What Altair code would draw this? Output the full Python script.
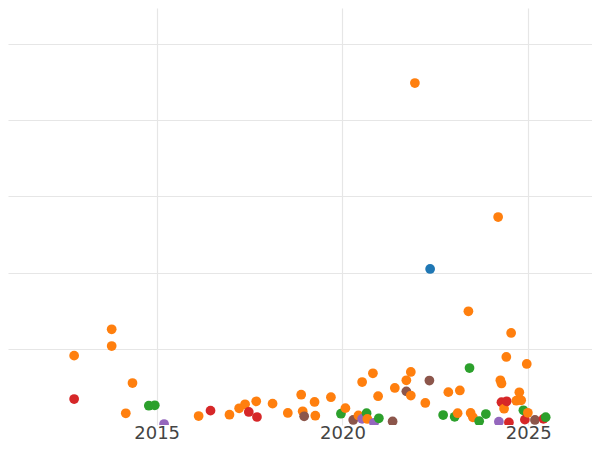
import altair as alt
import pandas as pd

# year (decimal) and value per category
orange_x = [2012.78, 2013.79, 2013.79, 2014.35, 2014.17, 2016.13, 2016.96, 2017.22, 2017.38, 2017.68,
            2018.12, 2018.53, 2018.89, 2018.93, 2019.25, 2019.27, 2019.69, 2020.08, 2020.43, 2020.53,
            2020.67, 2020.82, 2020.96, 2021.41, 2021.72, 2021.84, 2021.84, 2021.95, 2022.23, 2022.85,
            2023.16, 2023.10, 2023.39, 2023.45, 2023.51, 2024.19, 2024.25, 2024.28, 2024.35, 2024.41,
            2024.54, 2024.76, 2024.68, 2024.81, 2024.96, 2024.99]
orange_y = [9.10, 12.56, 10.37, 5.51, 1.54, 1.18, 1.35, 2.19, 2.72, 3.11,
            2.80, 1.58, 3.98, 1.80, 3.02, 1.22, 3.65, 2.21, 1.25, 5.64,
            0.79, 6.79, 3.78, 4.86, 5.87, 6.96, 3.87, 44.89, 2.89, 4.31,
            4.53, 1.55, 14.93, 1.58, 1.01, 27.30, 5.87, 5.45, 2.14, 8.93,
            12.08, 4.29, 3.19, 3.24, 8.01, 1.60]

red_x = [2012.78, 2016.45, 2017.48, 2017.70, 2024.28, 2024.42, 2024.48, 2024.91, 2025.41]
red_y = [3.41, 1.88, 1.71, 1.05, 2.99, 3.11, 0.33, 0.70, 0.81]

green_x = [2014.79, 2014.95, 2019.96, 2020.65, 2020.98, 2022.71, 2023.02, 2023.42, 2023.68, 2023.86,
           2024.87, 2025.47]
green_y = [2.53, 2.59, 1.48, 1.55, 0.88, 1.31, 1.08, 7.48, 0.50, 1.44, 1.93, 1.02]

purple_x = [2015.20, 2020.53, 2020.85, 2024.21]
purple_y = [0.13, 0.81, 0.29, 0.43]

brown_x = [2018.97, 2020.29, 2021.35, 2021.72, 2022.34, 2025.18]
brown_y = [1.14, 0.66, 0.46, 4.42, 5.84, 0.66]

blue_x = [2022.36]
blue_y = [20.48]

categories = ["A", "B", "C", "D", "E", "F"]
palette = ["#1f77b4", "#ff7f0e", "#2ca02c", "#d62728", "#9467bd", "#8c564b"]

series = {
    "A": (blue_x, blue_y),
    "B": (orange_x, orange_y),
    "C": (green_x, green_y),
    "D": (red_x, red_y),
    "E": (purple_x, purple_y),
    "F": (brown_x, brown_y),
}

rows = []
for cat, (xs, ys) in series.items():
    for x, y in zip(xs, ys):
        rows.append({"year": x, "value": y, "cat": cat})
df = pd.DataFrame(rows).sort_values("year").reset_index(drop=True)
df["order"] = range(len(df))

chart = alt.Chart(df).mark_circle(size=95, opacity=1, clip=True).encode(
    x=alt.X("year:Q",
            scale=alt.Scale(domain=[2011, 2026.716], nice=False, zero=False),
            axis=alt.Axis(values=[2015, 2020, 2025], format="d", title=None,
                          domain=False, ticks=False, tickSize=0, labelFontSize=18,
                          labelColor="#444444", labelFont="DejaVu Sans",
                          labelBaseline="alphabetic", labelPadding=13,
                          gridColor="#e6e6e6", gridWidth=1.2)),
    y=alt.Y("value:Q",
            scale=alt.Scale(domain=[0, 54.74], nice=False),
            axis=alt.Axis(values=[10, 20, 30, 40, 50], labels=False, ticks=False,
                          domain=False, title=None, gridColor="#e6e6e6", gridWidth=1.2)),
    color=alt.Color("cat:N", scale=alt.Scale(domain=categories, range=palette), legend=None),
    order=alt.Order("order:Q"),
).properties(
    width=584,
    height=417,
    autosize=alt.AutoSizeParams(type="none"),
    padding={"left": 0, "top": 0, "right": 0, "bottom": 17},
).configure_view(stroke=None)

chart.save("out.html", embed_options={"renderer": "svg", "actions": False})
